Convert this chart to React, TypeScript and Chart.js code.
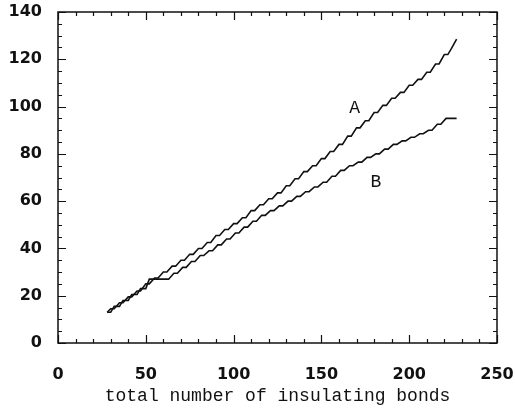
import React, { useEffect, useRef } from "react";
import { Chart, registerables } from "chart.js";

Chart.register(...registerables);

// ---- data (x = total number of insulating bonds, y = value) ----
const seriesA: [number, number][] = [
  [28, 13], [30, 14.5], [32, 14.5], [35, 17], [37, 17], [40, 19.5], [42, 19.5], [45, 22],
  [47, 22], [50, 25], [52, 25], [55, 27.5], [57, 27.5], [60, 30], [62, 30], [65, 32.5],
  [67, 32.5], [70, 35], [72, 35], [75, 37.5], [77, 37.5], [80, 40], [82, 40], [85, 42.5],
  [87, 42.5], [90, 45.5], [92, 45.5], [95, 48], [97, 48], [100, 50.5], [102, 50.5], [105, 53],
  [107, 53], [110, 56], [112, 56], [115, 58.5], [117, 58.5], [120, 61], [122, 61], [125, 63.5],
  [127, 63.5], [130, 66.5], [132, 66.5], [135, 69.5], [137, 69.5], [140, 72.5], [142, 72.5],
  [145, 75], [147, 75], [150, 78], [152, 78], [155, 81], [157, 81], [160, 84], [162, 84],
  [165, 87.5], [167, 87.5], [170, 91], [172, 91], [175, 94], [177, 94], [180, 97.5], [182, 97.5],
  [185, 100.5], [187, 100.5], [190, 103.5], [192, 103.5], [195, 106], [197, 106], [200, 109],
  [202, 109], [205, 111.5], [207, 111.5], [210, 114.5], [212, 114.5], [215, 118], [217, 118],
  [220, 122], [222, 122], [224, 124.5], [227, 128.5],
];

const seriesB: [number, number][] = [
  [28, 13], [30, 13], [32, 15.5], [35, 15.5], [37, 18], [40, 18], [42, 20.5], [45, 20.5],
  [47, 23], [50, 23], [52, 27], [63, 27], [66, 29.5], [68, 29.5], [71, 32], [73, 32],
  [76, 34.5], [78, 34.5], [81, 37], [83, 37], [86, 39], [88, 39], [91, 41.5], [93, 41.5],
  [96, 44], [98, 44], [101, 46.5], [103, 46.5], [106, 49], [108, 49], [111, 51.5], [113, 51.5],
  [116, 54], [118, 54], [121, 56], [123, 56], [126, 58], [128, 58], [131, 60], [133, 60],
  [136, 62], [138, 62], [141, 64], [143, 64], [146, 66], [148, 66], [151, 68], [153, 68],
  [156, 70.5], [158, 70.5], [161, 73], [163, 73], [166, 75], [168, 75], [171, 76.5], [173, 76.5],
  [176, 78.5], [178, 78.5], [181, 80], [183, 80], [186, 82], [188, 82], [191, 84], [193, 84],
  [196, 85.5], [198, 85.5], [201, 87], [203, 87], [206, 88.5], [208, 88.5], [211, 90], [213, 90],
  [216, 92.5], [218, 92.5], [221, 95], [227, 95],
];

const curveLabels = ["A", "B"];
const curveLabelX = [169, 181];
const curveLabelY = [99.4, 68.2];

const xMajorTicks = [0, 50, 100, 150, 200, 250];
const xMinorTicks = [10, 20, 30, 40, 60, 70, 80, 90, 110, 120, 130, 140, 160, 170, 180, 190, 210, 220, 230, 240];
const yMajorTicks = [0, 20, 40, 60, 80, 100, 120, 140];
const yMinorTicks = [5, 10, 15, 25, 30, 35, 45, 50, 55, 65, 70, 75, 85, 90, 95, 105, 110, 115, 125, 130, 135];

const xTitle = "total number of insulating bonds";

const frameColor = "#111";

const framePlugin = {
  id: "framePlugin",
  afterDraw(chart: any) {
    const { ctx, chartArea } = chart;
    const xs = chart.scales.x;
    const ys = chart.scales.y;
    const { left, right, top, bottom } = chartArea;
    ctx.save();
    ctx.strokeStyle = frameColor;
    ctx.lineWidth = 1.5;
    ctx.strokeRect(left, top, right - left, bottom - top);
    ctx.lineWidth = 1.2;
    const drawX = (vals: number[], len: number) => {
      vals.forEach((v) => {
        const px = Math.round(xs.getPixelForValue(v)) + 0.5;
        ctx.beginPath();
        ctx.moveTo(px, bottom);
        ctx.lineTo(px, bottom - len);
        ctx.moveTo(px, top);
        ctx.lineTo(px, top + len);
        ctx.stroke();
      });
    };
    const drawY = (vals: number[], len: number) => {
      vals.forEach((v) => {
        const py = Math.round(ys.getPixelForValue(v)) + 0.5;
        ctx.beginPath();
        ctx.moveTo(left, py);
        ctx.lineTo(left + len, py);
        ctx.moveTo(right, py);
        ctx.lineTo(right - len, py);
        ctx.stroke();
      });
    };
    drawX(xMajorTicks, 8);
    drawX(xMinorTicks, 4);
    drawY(yMajorTicks, 8);
    drawY(yMinorTicks, 4);

    ctx.fillStyle = "#111";
    ctx.font = "18px 'Liberation Mono'";
    ctx.textAlign = "center";
    ctx.textBaseline = "middle";
    curveLabels.forEach((t, i) => {
      ctx.fillText(t, xs.getPixelForValue(curveLabelX[i]), ys.getPixelForValue(curveLabelY[i]));
    });
    ctx.restore();
  },
};

export default function App() {
  const ref = useRef<HTMLCanvasElement | null>(null);
  useEffect(() => {
    document.body.style.margin = "0";
    const canvas = ref.current;
    if (!canvas) return;
    const chart = new Chart(canvas, {
      type: "line",
      data: {
        datasets: [
          {
            label: "A",
            data: seriesA.map(([x, y]) => ({ x, y })),
            borderColor: "#111",
            borderWidth: 1.6,
            pointRadius: 0,
            fill: false,
            tension: 0,
          },
          {
            label: "B",
            data: seriesB.map(([x, y]) => ({ x, y })),
            borderColor: "#111",
            borderWidth: 1.6,
            pointRadius: 0,
            fill: false,
            tension: 0,
          },
        ],
      },
      options: {
        responsive: false,
        animation: false,
        layout: { padding: 0 },
        plugins: {
          legend: { display: false },
          tooltip: { enabled: false },
        },
        scales: {
          x: {
            type: "linear",
            min: 0,
            max: 250,
            grid: { display: false, drawTicks: false },
            border: { display: false },
            ticks: {
              stepSize: 50,
              padding: 22,
              color: "#111",
              maxRotation: 0,
              font: { family: "'DejaVu Sans'", size: 16, weight: "bold" },
            },
            title: {
              display: true,
              text: xTitle,
              color: "#111",
              padding: { top: 0, bottom: 5 },
              font: { family: "'Liberation Mono'", size: 18 },
            },
            afterFit(scale: any) {
              scale.height = 69;
              scale.paddingLeft = 0;
              scale.paddingRight = 18;
            },
          },
          y: {
            type: "linear",
            min: 0,
            max: 140,
            grid: { display: false, drawTicks: false },
            border: { display: false },
            ticks: {
              stepSize: 20,
              padding: 16,
              color: "#111",
              font: { family: "'DejaVu Sans'", size: 16, weight: "bold" },
            },
            afterFit(scale: any) {
              scale.width = 58;
              scale.paddingTop = 12;
              scale.paddingBottom = 0;
            },
          },
        },
      },
      plugins: [framePlugin],
    });
    return () => chart.destroy();
  }, []);
  return <canvas ref={ref} width={515} height={412} style={{ display: "block" }} />;
}
